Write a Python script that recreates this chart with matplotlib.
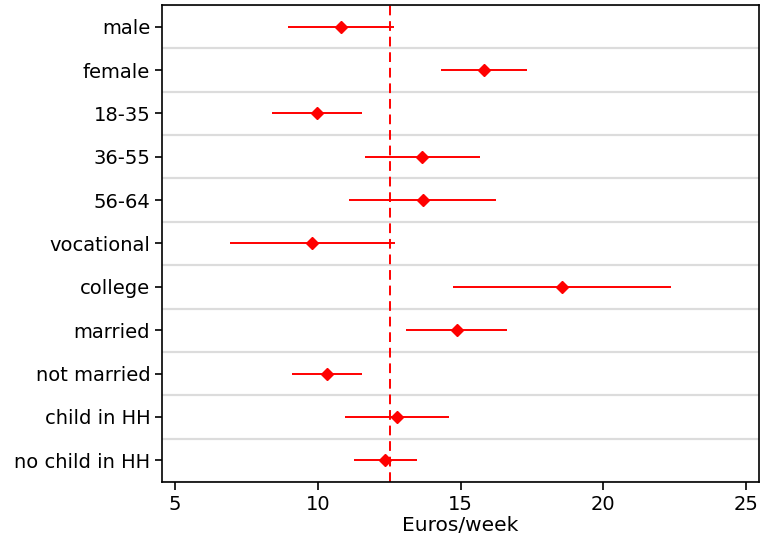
import matplotlib
matplotlib.use("Agg")
import matplotlib.pyplot as plt
import numpy as np

# データ (Euros/week)
groups = ["male", "female", "18-35", "36-55", "56-64", "vocational", "college",
          "married", "not married", "child in HH", "no child in HH"]
estimate = [10.81, 15.82, 9.97, 13.65, 13.69, 9.80, 18.56, 14.88, 10.32, 12.78, 12.36]
ci_low = [8.96, 14.32, 8.40, 11.65, 11.09, 6.93, 14.74, 13.09, 9.10, 10.95, 11.27]
ci_high = [12.67, 17.33, 11.55, 15.68, 16.24, 12.71, 22.37, 16.63, 11.55, 14.60, 13.48]
overall = 12.53
xticks = [5, 10, 15, 20, 25]

fig = plt.figure(figsize=(7.61, 5.39), dpi=100)
ax = fig.add_axes([0.2129, 0.1058, 0.7845, 0.8849])

y = np.arange(len(groups))
est = np.array(estimate)
lo = np.array(ci_low)
hi = np.array(ci_high)

# 区切り線
for b in np.arange(-0.5, len(groups) + 0.5, 1.0):
    ax.axhline(b, color="#dcdcdc", lw=1.6, zorder=0)

ax.axvline(overall, color="red", lw=1.4, ls=(0, (5, 3)), zorder=1)
ax.errorbar(est, y, xerr=[est - lo, hi - est], fmt="D", color="red",
            ms=6, elinewidth=1.4, capsize=0, zorder=3)

ax.set_yticks(y)
ax.set_yticklabels(groups, fontsize=14)
ax.set_xticks(xticks)
ax.tick_params(axis="x", labelsize=14, length=6, width=1.2)
ax.tick_params(axis="y", length=5, width=1.2)
ax.set_xlim(4.55, 25.45)
ax.set_ylim(len(groups) - 0.5, -0.5)
ax.set_xlabel("Euros/week", fontsize=14.5, labelpad=1)
for s in ax.spines.values():
    s.set_linewidth(1.2)

fig.savefig("out.png", dpi=100)
